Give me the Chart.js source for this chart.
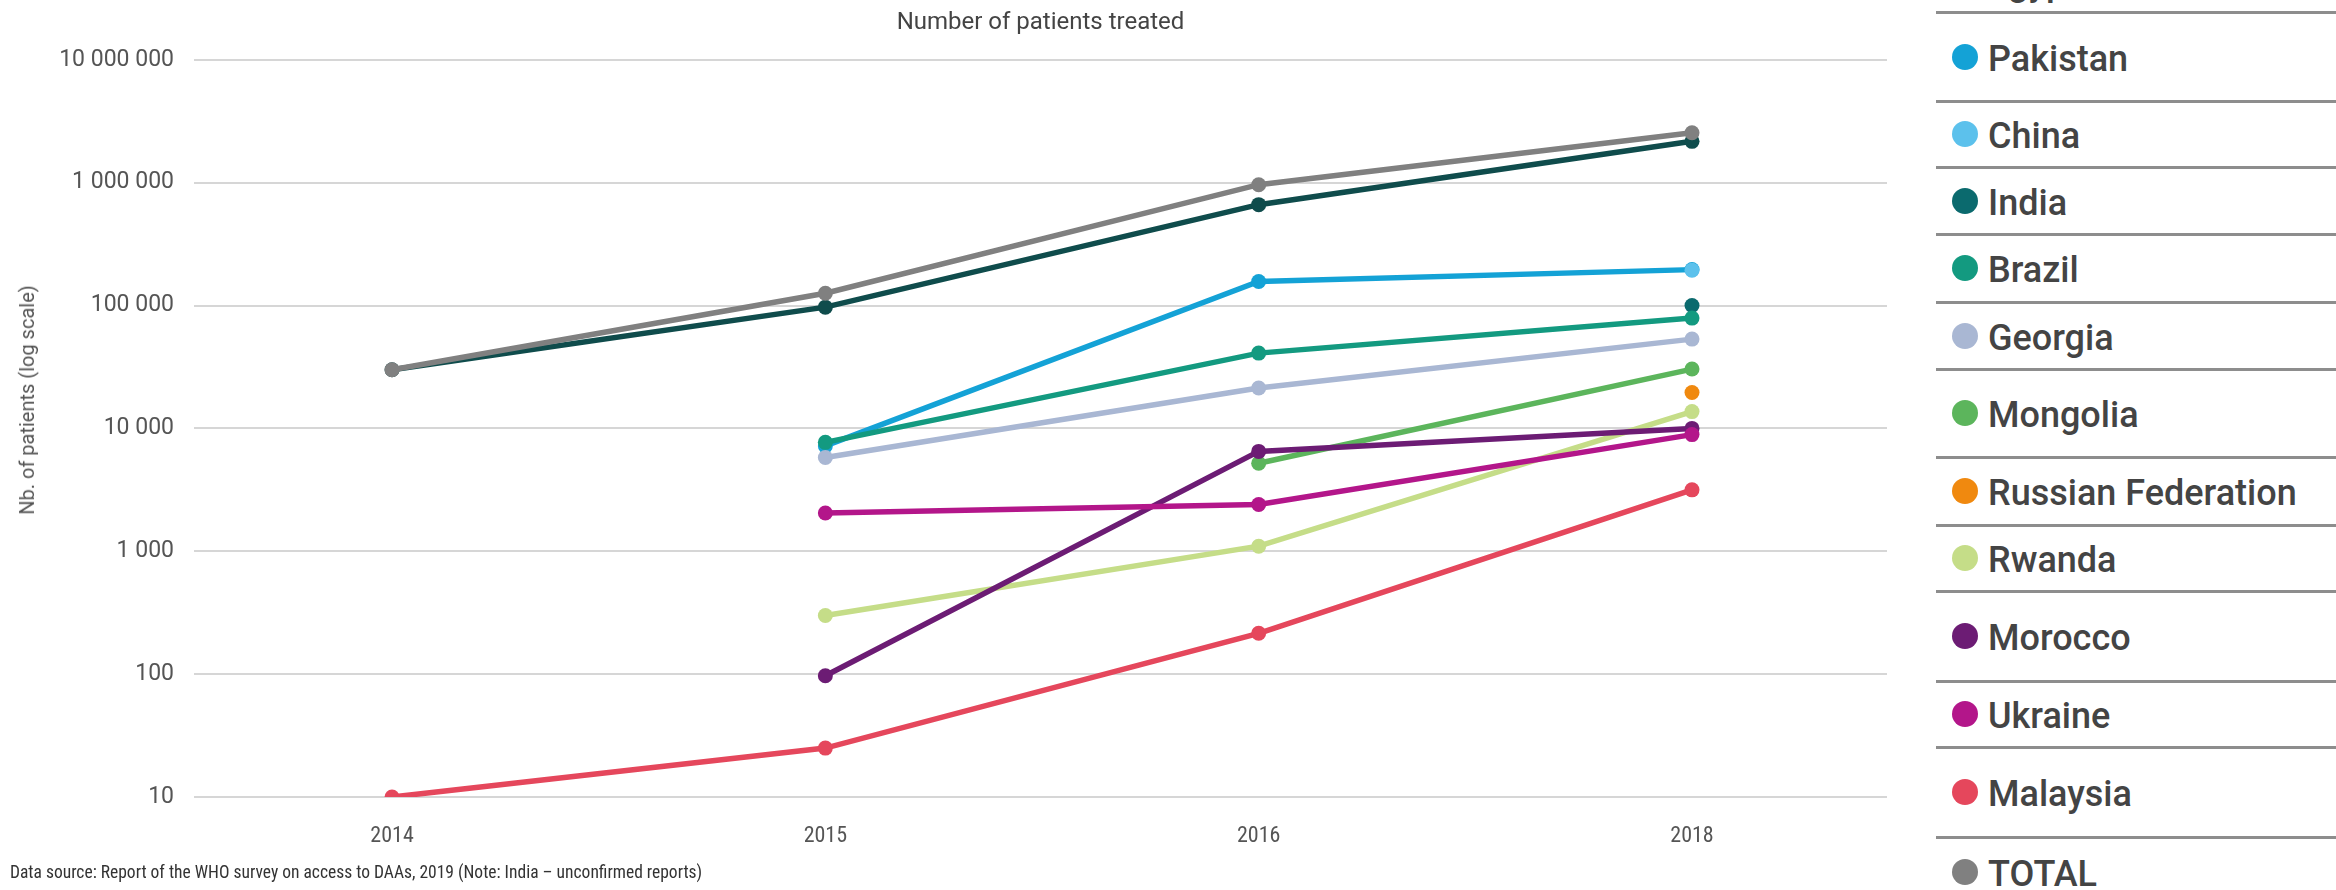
<!DOCTYPE html>
<html>
<head>
<meta charset="utf-8">
<script src="https://cdn.jsdelivr.net/npm/chart.js@4/dist/chart.umd.min.js"></script>
<style>
  html, body { margin:0; padding:0; background:#fff; }
  body { width:2336px; height:890px; overflow:hidden; position:relative; font-family: Roboto, "Noto Sans", sans-serif; }
  #wrap { position:absolute; left:0; top:0; width:1900px; height:890px; }
  #ytitle { position:absolute; left:27px; top:400px; transform:translate(-50%,-50%) rotate(-90deg); white-space:nowrap; font-size:20px; color:#555; }
  #source { position:absolute; left:10px; top:862px; white-space:nowrap; font-family:"Liberation Sans Narrow", "Roboto Condensed", Roboto, sans-serif; font-size:17.5px; color:#333; }
  .lg-line { position:absolute; left:1936px; width:400px; height:3px; background:#8d8d8d; }
  .lg-row { position:absolute; left:1936px; width:400px; display:flex; align-items:center; }
  .lg-dot { width:26px; height:26px; border-radius:50%; margin-left:16px; flex:none; }
  .lg-txt { margin-left:10px; font-size:36px; font-weight:500; color:#444; white-space:nowrap; position:relative; top:2px; }
</style>
</head>
<body>
<div id="wrap"><canvas id="c" width="1900" height="890"></canvas></div>
<div id="ytitle">Nb. of patients (log scale)</div>
<div id="source">Data source: Report of the WHO survey on access to DAAs, 2019 (Note: India – unconfirmed reports)</div>
<div id="legend"></div>
<script>
// ---- data ----
const categories = ['2014', '2015', '2016', '2018'];
const seriesNames = ['Egypt', 'Pakistan', 'China', 'India', 'Brazil', 'Georgia', 'Mongolia', 'Russian Federation', 'Rwanda', 'Morocco', 'Ukraine', 'Malaysia', 'TOTAL'];
const egypt     = [30000, 97000, 662000, 2170000];
const pakistan  = [null, 7200, 157000, 196000];
const china     = [null, null, null, 194000];
const india     = [null, null, null, 100000];
const brazil    = [null, 7700, 41000, 79000];
const georgia   = [null, 5800, 21300, 53300];
const mongolia  = [null, null, 5200, 30400];
const russia    = [null, null, null, 19600];
const rwanda    = [null, 300, 1100, 13700];
const morocco   = [null, 97, 6500, 10000];
const ukraine   = [null, 2050, 2400, 8900];
const malaysia  = [10, 25, 215, 3160];
const total     = [30000, 126000, 963000, 2550000];
const yTickValues = [10, 100, 1000, 10000, 100000, 1000000, 10000000];
const yTickLabels = ['10', '100', '1 000', '10 000', '100 000', '1 000 000', '10 000 000'];

// ---- styles ----
const seriesValues = [egypt, pakistan, china, india, brazil, georgia, mongolia, russia, rwanda, morocco, ukraine, malaysia, total];
const seriesColors = ['#0f4c4c', '#14a2d6', '#5cc1ec', '#0b6a6e', '#139a80', '#a9b7d3', '#5cb55c', '#f0890f', '#c5dd88', '#6c1c74', '#b3168a', '#e5475c', '#808080'];
const legendLineY = [12, 101, 167, 234, 302, 369, 457, 525, 591, 681, 747, 837];

const datasets = seriesNames.map((name, i) => ({
  label: name,
  data: seriesValues[i].map((v, j) => ({ x: j, y: v })),
  borderColor: seriesColors[i],
  backgroundColor: seriesColors[i],
  borderWidth: 5.5,
  pointRadius: 7.5,
  pointBorderWidth: 0,
  pointHoverRadius: 7.5,
  tension: 0,
  spanGaps: false,
  order: seriesNames.length - i
}));

new Chart(document.getElementById('c'), {
  type: 'line',
  data: { datasets },
  options: {
    responsive: false,
    animation: false,
    layout: { padding: { left: 0, right: 13, top: 0, bottom: 0 } },
    plugins: {
      legend: { display: false },
      tooltip: { enabled: false },
      title: {
        display: true,
        text: 'Number of patients treated',
        fullSize: false,
        color: '#444',
        font: { family: 'Roboto, "Noto Sans", sans-serif', size: 24, weight: 'normal' },
        padding: { top: 9, bottom: 22 }
      }
    },
    scales: {
      x: {
        type: 'linear',
        min: -0.457,
        max: 3.45,
        afterBuildTicks: s => { s.ticks = categories.map((c, i) => ({ value: i })); },
        afterFit: s => { s.height = 93; },
        grid: { display: false, drawTicks: false },
        border: { display: false },
        ticks: {
          padding: 26,
          color: '#555',
          font: { family: '"Roboto Condensed", "Liberation Sans Narrow", Roboto, sans-serif', size: 22 },
          callback: v => categories[v] ?? ''
        }
      },
      y: {
        type: 'logarithmic',
        min: 10,
        max: 10000000,
        afterBuildTicks: s => { s.ticks = yTickValues.map(v => ({ value: v })); },
        afterFit: s => { s.width = 194; },
        grid: { color: '#d6d6d6', lineWidth: 2, drawTicks: false },
        border: { display: false },
        ticks: {
          padding: 20,
          color: '#555',
          font: { family: 'Roboto, "Noto Sans", sans-serif', size: 23 },
          callback: v => { const k = yTickValues.indexOf(v); return k >= 0 ? yTickLabels[k] : ''; }
        }
      }
    }
  }
});

// ---- HTML legend ----
const lg = document.getElementById('legend');
legendLineY.forEach(y => {
  const d = document.createElement('div');
  d.className = 'lg-line';
  d.style.top = (y - 1.5) + 'px';
  lg.appendChild(d);
});
const rowBounds = [-50].concat(legendLineY).concat([907]);
seriesNames.forEach((name, i) => {
  const top = rowBounds[i], bottom = rowBounds[i + 1];
  const row = document.createElement('div');
  row.className = 'lg-row';
  row.style.top = top + 'px';
  row.style.height = (bottom - top) + 'px';
  const dot = document.createElement('span');
  dot.className = 'lg-dot';
  dot.style.background = seriesColors[i];
  const txt = document.createElement('span');
  txt.className = 'lg-txt';
  txt.textContent = name;
  row.appendChild(dot);
  row.appendChild(txt);
  lg.appendChild(row);
});
</script>
</body>
</html>
